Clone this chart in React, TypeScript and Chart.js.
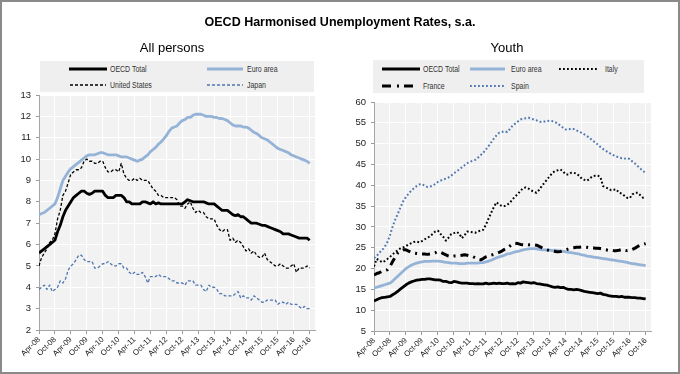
import React, { useEffect, useRef } from "react";
import { Chart, registerables } from "chart.js";
Chart.register(...registerables);

// x positions are months counted from Apr-08 (0) to Oct-16 (102)
const tickLabels = ["Apr-08","Oct-08","Apr-09","Oct-09","Apr-10","Oct-10","Apr-11","Oct-11","Apr-12","Oct-12","Apr-13","Oct-13","Apr-14","Oct-14","Apr-15","Oct-15","Apr-16","Oct-16"];

// ---------- All persons ----------
const allOecd = [
  5.6, 5.7, 5.8, 5.9, 6.0, 6.1, 6.2, 6.6, 6.9,
  7.3, 7.6, 7.8, 8.0, 8.2, 8.3, 8.4, 8.5, 8.5, 8.4, 8.35, 8.4,
  8.5, 8.5, 8.5, 8.5, 8.3, 8.2, 8.2, 8.2, 8.3, 8.3, 8.3, 8.2,
  8.0, 8.0, 7.9, 7.9, 7.9, 7.9, 8.0, 8.0, 7.95, 7.9, 8.0, 7.9,
  7.95, 7.9, 7.9, 7.9, 7.9, 7.9, 7.9, 7.9, 7.9, 7.9, 8.0, 8.1,
  8.05, 8.0, 8.0, 8.0, 8.0, 8.0, 7.95, 7.9, 7.9, 7.9, 7.8, 7.7,
  7.6, 7.6, 7.6, 7.5, 7.4, 7.35, 7.4, 7.3, 7.3, 7.2, 7.1, 7.0,
  7.0, 7.0, 6.95, 6.9, 6.9, 6.85, 6.8, 6.75, 6.7, 6.65, 6.6, 6.5,
  6.5, 6.5, 6.45, 6.4, 6.35, 6.3, 6.3, 6.3, 6.3, 6.2
];
const allEuro = [
  7.4, 7.45, 7.5, 7.6, 7.7, 7.8, 7.9, 8.2, 8.6,
  9.0, 9.2, 9.4, 9.55, 9.65, 9.75, 9.85, 9.95, 10.05, 10.15, 10.2, 10.2,
  10.2, 10.25, 10.3, 10.3, 10.25, 10.2, 10.2, 10.2, 10.2, 10.15, 10.1, 10.1,
  10.1, 10.05, 10.0, 9.95, 9.9, 9.95, 10.0, 10.1, 10.2, 10.35, 10.45, 10.55,
  10.7, 10.8, 10.95, 11.1, 11.3, 11.45, 11.5, 11.55, 11.7, 11.8, 11.85, 11.95,
  11.95, 12.05, 12.1, 12.1, 12.1, 12.05, 12.0, 12.0, 12.0, 11.95, 11.95, 11.9,
  11.9, 11.85, 11.8, 11.7, 11.6, 11.55, 11.55, 11.55, 11.5, 11.5, 11.45, 11.35,
  11.25, 11.2, 11.1, 11.0, 10.95, 10.9, 10.8, 10.7, 10.6, 10.5, 10.45, 10.4,
  10.35, 10.3, 10.2, 10.15, 10.1, 10.05, 10.0, 9.95, 9.9, 9.8
];
const allUS = [
  5.0, 5.4, 5.6, 5.8, 6.1, 6.2, 6.5, 7.2, 7.6,
  8.3, 8.5, 8.9, 9.3, 9.4, 9.5, 9.5, 9.6, 9.9, 10.0, 9.9, 9.9,
  9.8, 9.8, 9.9, 9.9, 9.6, 9.4, 9.4, 9.5, 9.5, 9.4, 9.8, 9.3,
  9.1, 9.0, 9.0, 9.1, 9.0, 9.1, 9.0, 9.0, 9.0, 8.8, 8.6, 8.5,
  8.3, 8.3, 8.2, 8.2, 8.2, 8.2, 8.2, 8.1, 7.8, 7.8, 7.7, 7.9,
  8.0, 7.7, 7.5, 7.6, 7.5, 7.5, 7.3, 7.2, 7.2, 7.2, 6.9, 6.7,
  6.6, 6.7, 6.7, 6.2, 6.3, 6.1, 6.2, 6.1, 5.9, 5.7, 5.8, 5.6,
  5.7, 5.5, 5.4, 5.4, 5.6, 5.3, 5.2, 5.1, 5.0, 5.0, 5.1, 5.0,
  4.9, 4.9, 5.0, 5.1, 4.7, 4.9, 4.9, 4.9, 5.0, 4.9
];
const allJapan = [
  3.9, 4.0, 4.1, 3.9, 4.1, 3.8, 3.9, 4.0, 4.3,
  4.2, 4.4, 4.8, 5.0, 5.1, 5.3, 5.5, 5.5, 5.3, 5.2, 5.2, 5.2,
  4.9, 4.9, 5.0, 5.1, 5.1, 5.2, 5.1, 5.0, 5.0, 5.1, 5.1, 4.9,
  4.9, 4.7, 4.6, 4.7, 4.6, 4.6, 4.7, 4.5, 4.2, 4.5, 4.5, 4.5,
  4.6, 4.5, 4.5, 4.5, 4.4, 4.3, 4.3, 4.2, 4.2, 4.2, 4.1, 4.3,
  4.3, 4.3, 4.1, 4.1, 4.1, 3.9, 3.8, 4.1, 4.0, 4.0, 3.9, 3.7,
  3.7, 3.6, 3.6, 3.6, 3.6, 3.7, 3.8, 3.5, 3.6, 3.5, 3.5, 3.4,
  3.6, 3.5, 3.4, 3.3, 3.3, 3.4, 3.4, 3.4, 3.4, 3.2, 3.3, 3.3,
  3.2, 3.3, 3.2, 3.2, 3.2, 3.1, 3.0, 3.1, 3.0, 3.0
];

// ---------- Youth ----------
const youthOecd = [
  12.2, 12.5, 12.8, 13.0, 13.1, 13.2, 13.3, 13.7, 14.1,
  14.6, 15.1, 15.6, 16.1, 16.5, 16.8, 17.0, 17.2, 17.3, 17.4, 17.4, 17.5,
  17.5, 17.4, 17.3, 17.3, 17.2, 16.9, 16.9, 16.7, 16.6, 16.9, 16.8, 16.6,
  16.5, 16.5, 16.5, 16.4, 16.4, 16.3, 16.4, 16.3, 16.3, 16.5, 16.3, 16.4,
  16.5, 16.4, 16.5, 16.4, 16.4, 16.5, 16.3, 16.4, 16.3, 16.6, 16.5, 16.8,
  16.7, 16.6, 16.5, 16.6, 16.4, 16.3, 16.2, 16.1, 16.0, 15.8, 15.6, 15.5,
  15.6, 15.4, 15.5, 15.2, 15.0, 15.0, 14.9, 15.0, 14.9, 14.7, 14.5, 14.4,
  14.3, 14.2, 14.1, 14.0, 14.1, 13.8, 13.7, 13.5, 13.4, 13.3, 13.3, 13.2,
  13.3, 13.1, 13.1, 13.1, 13.0, 13.0, 12.9, 12.9, 12.8, 12.7
];
const youthEuro = [
  15.3, 15.5, 15.7, 15.9, 16.1, 16.3, 16.5, 17.0, 17.6,
  18.2, 18.8, 19.4, 20.0, 20.4, 20.8, 21.1, 21.3, 21.5, 21.6, 21.7, 21.7,
  21.7, 21.8, 21.8, 21.8, 21.7, 21.6, 21.5, 21.4, 21.3, 21.3, 21.3, 21.2,
  21.2, 21.2, 21.3, 21.3, 21.3, 21.3, 21.3, 21.4, 21.4, 21.6, 21.8, 22.0,
  22.3, 22.6, 22.8, 23.0, 23.2, 23.5, 23.6, 23.8, 24.0, 24.1, 24.3, 24.5,
  24.6, 24.7, 24.8, 24.8, 24.7, 24.6, 24.5, 24.5, 24.4, 24.4, 24.3, 24.4,
  24.3, 24.2, 24.1, 24.0, 23.9, 23.8, 23.7, 23.6, 23.5, 23.3, 23.2, 23.0,
  22.9, 22.8, 22.7, 22.6, 22.5, 22.4, 22.3, 22.2, 22.1, 22.0, 21.9, 21.8,
  21.7, 21.6, 21.5, 21.3, 21.2, 21.1, 21.0, 20.9, 20.8, 20.7
];
const youthItaly = [
  20.5, 22.3, 22.0, 21.5, 21.8, 22.3, 22.8, 23.4, 24.0,
  24.4, 24.9, 25.1, 25.4, 25.8, 26.1, 26.4, 26.5, 26.3, 26.6, 27.0, 27.4,
  27.7, 28.3, 28.9, 29.1, 28.3, 27.6, 26.7, 27.4, 28.3, 28.5, 28.8, 28.4,
  27.3, 28.0, 28.9, 28.8, 28.7, 28.6, 28.9, 29.1, 29.3, 30.5, 32.0, 33.4,
  34.8, 35.9, 35.4, 35.0, 35.0, 35.3, 35.8, 36.6, 37.3, 37.9, 38.7, 39.3,
  39.5, 39.2, 38.8, 38.4, 38.2, 38.9, 39.8, 40.6, 41.4, 42.2, 43.0, 43.4,
  43.6, 43.8, 43.3, 42.6, 42.6, 43.0, 43.0, 42.8, 42.3, 41.6, 41.3, 41.1,
  41.6, 42.2, 42.3, 42.3, 42.0, 39.8, 39.5, 39.2, 38.8, 38.9, 39.0, 38.2,
  38.0, 37.5, 37.0, 36.9, 37.8, 38.2, 38.2, 37.6, 37.0, 36.8
];
const youthFrance = [
  18.5, 18.8, 19.0, 19.3, 19.5, 19.7, 20.5, 21.7, 22.8,
  23.8, 24.2, 24.5, 24.5, 24.2, 23.9, 23.7, 23.6, 23.5, 23.5, 23.5, 23.4,
  23.5, 23.6, 23.8, 24.1, 23.9, 23.6, 23.3, 23.0, 22.9, 23.0, 23.0, 23.1,
  23.2, 23.3, 23.2, 23.0, 22.9, 22.6, 22.2, 22.1, 22.4, 22.8, 23.0, 23.2,
  23.4, 23.7, 23.9, 24.2, 24.6, 24.9, 25.4, 25.9, 26.1, 26.0, 25.8, 25.7,
  25.8, 25.7, 25.7, 25.7, 25.6, 25.3, 25.0, 24.7, 24.5, 24.3, 24.2, 24.1,
  24.0, 24.1, 24.3, 24.5, 24.7, 24.9, 25.0, 25.1, 25.1, 25.2, 25.2, 25.1,
  25.0, 25.0, 24.9, 24.9, 24.8, 24.7, 24.5, 24.4, 24.4, 24.3, 24.3, 24.4,
  24.6, 24.4, 24.3, 24.4, 24.6, 24.9, 25.3, 25.6, 25.8, 26.0
];
const youthSpain = [
  22.5, 23.0, 23.8, 24.4, 25.2, 26.3, 28.0, 30.1, 31.8,
  33.2, 34.8, 36.2, 37.2, 38.0, 38.7, 39.3, 39.8, 40.2, 40.3, 39.9, 39.6,
  39.7, 39.9, 40.3, 40.8, 41.1, 41.4, 41.6, 41.9, 42.3, 42.9, 43.3, 43.8,
  44.3, 44.8, 45.3, 45.6, 45.9, 46.1, 46.6, 47.2, 47.8, 48.6, 49.4, 50.3,
  51.2, 52.0, 52.6, 52.8, 53.0, 52.8, 53.5, 54.3, 54.8, 55.3, 55.8, 56.0,
  56.1, 56.2, 56.0, 55.8, 55.6, 55.3, 55.2, 55.3, 55.4, 55.5, 55.4, 55.2,
  54.8, 54.3, 53.8, 53.4, 53.4, 53.6, 53.5, 53.2, 52.9, 52.6, 52.2, 51.8,
  51.3, 50.8, 50.3, 49.8, 49.2, 48.7, 48.3, 47.9, 47.5, 47.2, 46.9, 46.7,
  46.5, 46.4, 46.5, 46.3, 45.7, 45.2, 44.6, 44.0, 43.4, 43.0
];

const FONT = "'Liberation Sans', Arial, sans-serif";
const BLACK = "#000000";
const EURO = "#95b3d7";
const BLUE = "#4f76b0";

const plotBg = {
  id: "plotBg",
  beforeDraw(chart: any) {
    const { ctx, chartArea: a } = chart;
    ctx.save();
    ctx.fillStyle = "#f2f2f2";
    ctx.fillRect(a.left, a.top, a.right - a.left, a.bottom - a.top);
    ctx.restore();
  },
};

const pts = (arr: number[]) => arr.map((y, i) => ({ x: i, y }));

function config(datasets: any[], ymin: number, ymax: number, ystep: number, yW: number, xH: number, pad: any) {
  return {
    type: "line",
    data: { datasets },
    plugins: [plotBg],
    options: {
      responsive: false,
      animation: false,
      devicePixelRatio: 1,
      layout: { padding: pad },
      elements: { point: { radius: 0 }, line: { tension: 0, borderCapStyle: "butt", borderJoinStyle: "round" } },
      plugins: { legend: { display: false }, tooltip: { enabled: false }, title: { display: false } },
      scales: {
        x: {
          type: "linear",
          min: 0,
          max: 104,
          afterFit: (s: any) => { s.height = xH; },
          grid: { color: "#ffffff", lineWidth: 1, tickLength: 4, tickColor: "#9a9a9a" },
          border: { color: "#a6a6a6", width: 1 },
          ticks: {
            stepSize: 6,
            includeBounds: false,
            autoSkip: false,
            minRotation: 45,
            maxRotation: 45,
            padding: 1,
            color: "#222222",
            font: { family: FONT, size: 7.8 },
            callback: (v: number) => (v % 6 === 0 && tickLabels[v / 6] ? tickLabels[v / 6] : ""),
          },
        },
        y: {
          min: ymin,
          max: ymax,
          afterFit: (s: any) => { s.width = yW; },
          grid: { color: "#ffffff", lineWidth: 1, tickLength: 3, tickColor: "#9a9a9a" },
          border: { color: "#a6a6a6", width: 1 },
          ticks: { stepSize: ystep, padding: 5, color: "#222222", font: { family: FONT, size: 9.5 } },
        },
      },
    },
  } as any;
}

function Sample({ x, y, w, color, width, dash }: any) {
  return (
    <svg style={{ position: "absolute", left: x, top: y - 4 }} width={w} height={8}>
      <line x1={0} y1={4} x2={w} y2={4} stroke={color} strokeWidth={width} strokeDasharray={dash || undefined} />
    </svg>
  );
}

function Label({ x, y, text }: any) {
  return (
    <div style={{ position: "absolute", left: x, top: y - 6, lineHeight: "12px", fontSize: 8.5, fontFamily: FONT, color: "#333", whiteSpace: "nowrap", transform: "scaleX(0.82)", transformOrigin: "left center" }}>
      {text}
    </div>
  );
}

export default function App() {
  const leftRef = useRef<HTMLCanvasElement>(null);
  const rightRef = useRef<HTMLCanvasElement>(null);

  useEffect(() => {
    const left = new Chart(leftRef.current!, config([
      { label: "OECD Total", data: pts(allOecd), borderColor: BLACK, borderWidth: 2.8 },
      { label: "United States", data: pts(allUS), borderColor: BLACK, borderWidth: 1.3, borderDash: [3, 2] },
      { label: "Euro area", data: pts(allEuro), borderColor: EURO, borderWidth: 2.8 },
      { label: "Japan", data: pts(allJapan), borderColor: BLUE, borderWidth: 1.3, borderDash: [3, 2] },
    ], 2, 13, 1, 39, 44, { top: 95, right: 25, left: 0, bottom: 0 }));

    const right = new Chart(rightRef.current!, config([
      { label: "OECD Total", data: pts(youthOecd), borderColor: BLACK, borderWidth: 2.8 },
      { label: "France", data: pts(youthFrance), borderColor: BLACK, borderWidth: 3, borderDash: [8, 5, 2, 5] },
      { label: "Italy", data: pts(youthItaly), borderColor: BLACK, borderWidth: 2, borderDash: [1.8, 2.2] },
      { label: "Euro area", data: pts(youthEuro), borderColor: EURO, borderWidth: 2.8 },
      { label: "Spain", data: pts(youthSpain), borderColor: BLUE, borderWidth: 2, borderDash: [1.8, 2.2] },
    ], 5, 60, 5, 34, 43, { top: 102, right: 29, left: 0, bottom: 0 }));

    return () => { left.destroy(); right.destroy(); };
  }, []);

  return (
    <div style={{ position: "fixed", left: 0, top: 0, width: 680, height: 374, background: "#ffffff", overflow: "hidden", fontFamily: FONT }}>
      <canvas ref={leftRef} width={340} height={374} style={{ position: "absolute", left: 0, top: 0 }} />
      <canvas ref={rightRef} width={340} height={374} style={{ position: "absolute", left: 340, top: 0 }} />

      <div style={{ position: "absolute", left: 0, top: 14, width: 680, textAlign: "center", fontWeight: "bold", fontSize: 12.5, lineHeight: "16px", color: "#000" }}>
        OECD Harmonised Unemployment Rates, s.a.
      </div>
      <div style={{ position: "absolute", left: 72, top: 40, width: 200, textAlign: "center", fontSize: 13, lineHeight: "16px", color: "#000" }}>All persons</div>
      <div style={{ position: "absolute", left: 407, top: 40, width: 200, textAlign: "center", fontSize: 13, lineHeight: "16px", color: "#000" }}>Youth</div>

      {/* legend: all persons */}
      <div style={{ position: "absolute", left: 40, top: 61, width: 274, height: 31, background: "#efefef" }} />
      <Sample x={69} y={69} w={38} color={BLACK} width={3} />
      <Label x={110} y={69} text="OECD Total" />
      <Sample x={207} y={69} w={36} color={EURO} width={3} />
      <Label x={247} y={69} text="Euro area" />
      <Sample x={70} y={85} w={36} color={BLACK} width={1.3} dash="3 2" />
      <Label x={110} y={85} text="United States" />
      <Sample x={207} y={85} w={36} color={BLUE} width={1.3} dash="3 2" />
      <Label x={247} y={85} text="Japan" />

      {/* legend: youth */}
      <div style={{ position: "absolute", left: 373, top: 60, width: 271, height: 33, background: "#efefef" }} />
      <Sample x={382} y={69} w={38} color={BLACK} width={3} />
      <Label x={423} y={69} text="OECD Total" />
      <Sample x={470} y={69} w={35} color={EURO} width={3} />
      <Label x={511} y={69} text="Euro area" />
      <Sample x={559} y={69} w={39} color={BLACK} width={2} dash="1.8 2.2" />
      <Label x={605} y={69} text="Italy" />
      <Sample x={382} y={86} w={31} color={BLACK} width={3} dash="9 6 2 5" />
      <Label x={423} y={86} text="France" />
      <Sample x={470} y={86} w={35} color={BLUE} width={2} dash="1.8 2.2" />
      <Label x={511} y={86} text="Spain" />

      <div style={{ position: "absolute", left: 0, top: 0, width: 680, height: 374, boxSizing: "border-box", border: "2px solid #8a8a8a", pointerEvents: "none" }} />
    </div>
  );
}
